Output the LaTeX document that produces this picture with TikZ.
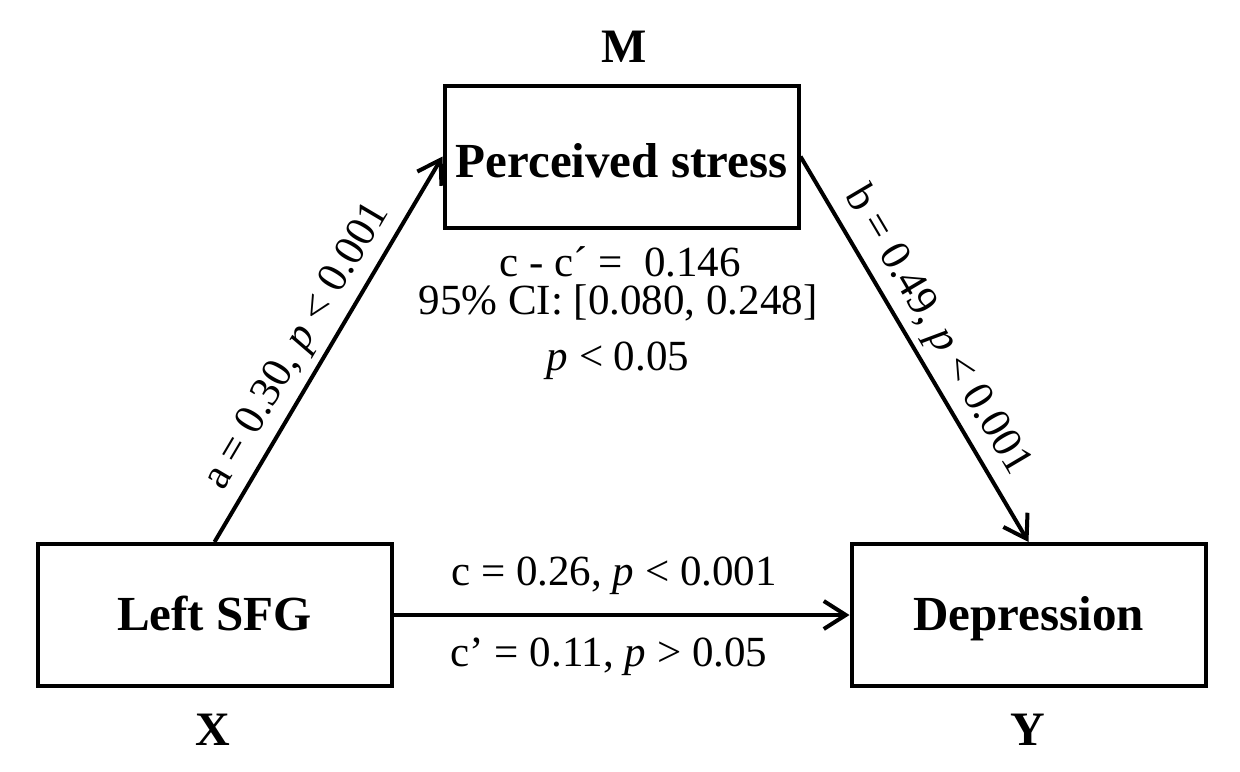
\documentclass[tikz,border=0pt]{standalone}
\usepackage{fontspec}
\setmainfont{Liberation Serif}
\usetikzlibrary{arrows.meta}
\begin{document}
\begin{tikzpicture}[x=0.5pt,y=-0.5pt,
 box/.style={draw,line width=2pt,minimum width=177pt,minimum height=71pt,inner sep=0pt,
   font=\fontsize{24.5}{28}\selectfont\bfseries,text height=16.5pt,text depth=1.5pt},
 lbl/.style={font=\fontsize{24}{28}\selectfont\bfseries,anchor=base},
 val/.style={font=\fontsize{21.5}{25}\selectfont},
 vbase/.style={val,anchor=base},
 conn/.style={line width=2pt,-{Straight Barb[length=11pt,width=14pt]}}]
\useasboundingbox (0,0) rectangle (1240,771);
\node[box,text height=22pt] (M) at (621.5,156.5) {Perceived stress};
\node[box] (X) at (214.5,615) {Left SFG};
\node[box] (Y) at (1028.5,615) {Depression};
\node[lbl] (Ml) at (624,62) {M};
\node[lbl] (Xl) at (213,745) {X};
\node[lbl] (Yl) at (1028,745) {Y};
\draw[conn] (X.north) -- (M.west)
  node[val,sloped,above,pos=0.47] (a) {a = 0.30, \textit{p} < 0.001};
\draw[conn] (M.east) -- (Y.north)
  node[val,sloped,above,pos=0.49] (b) {b = 0.49, \textit{p} < 0.001};
\draw[conn] (X.east) -- (Y.west);
\node[vbase] (c) at (614,585) {c = 0.26, \textit{p} < 0.001};
\node[vbase] (cp) at (609,666) {c’ = 0.11, \textit{p} > 0.05};
\node[vbase] (ind1) at (620,276) {c - c´ =\ \ 0.146};
\node[vbase] (ind2) at (618,314) {95\% CI: [0.080, 0.248]};
\node[vbase] (ind3) at (618,370) {\textit{p} < 0.05};
\end{tikzpicture}
\end{document}
